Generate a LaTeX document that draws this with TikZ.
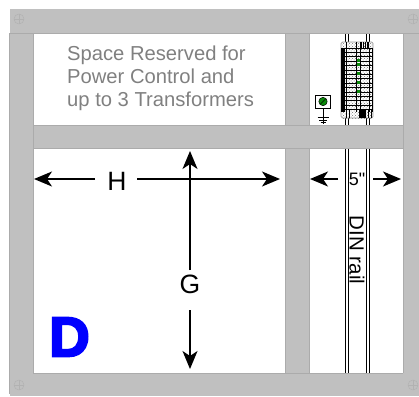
\documentclass[tikz,border=0pt]{standalone}
\usepackage{fontspec}
\setmainfont{Liberation Sans}
\newfontfamily\plainfont{Liberation Sans}
\newfontfamily\heavyfont[FakeBold=4]{Liberation Sans Bold}
\usetikzlibrary{arrows.meta,patterns}
\definecolor{bargray}{HTML}{C0C0C0}
\definecolor{baredge}{HTML}{ABABAB}
\definecolor{screwgray}{HTML}{B2B2B2}
\definecolor{textgray}{HTML}{808080}
\definecolor{ledgreen}{HTML}{0A8A0A}
\tikzset{
  bar/.style={fill=bargray,draw=baredge,line width=.5pt},
  screw/.style={draw=screwgray,line width=.5pt},
  dimarrow/.style={-{Stealth[length=18pt,width=15pt,inset=5pt]},line width=1.8pt},
  dimlabel/.style={font=\fontsize{26.5}{26.5}\selectfont,inner sep=0pt},
  rail/.style={line width=1pt,black},
  gridline/.style={line width=1pt,black},
}
\begin{document}
\begin{tikzpicture}[x=1pt,y=-1pt]
   \useasboundingbox (0,0) rectangle (419,396);
   % din rail, the bar goes over it
   \foreach \x in {345,348,366.5,369.5} \draw[rail] (\x,33) -- (\x,373);
   \draw[rail] (345,33.5) -- (369.5,33.5);
   % frame
   \fill[bargray] (9.5,9) rectangle (419,33);
   \draw[bar] (9.5,33) rectangle (33,393);
   \draw[bar] (285,33) rectangle (309,373);
   \draw[bar] (33,125) rectangle (403,148);
   \draw[bar] (403,33) rectangle (419,373);
   \fill[bargray] (9.5,373) rectangle (419,396);
   \draw[baredge,line width=.5pt] (33,33) -- (285,33) (309,33) -- (403,33) (33,373) -- (403,373);
   \foreach \x/\y in {19/19,413/19,19/385,413/385} {
     \draw[screw] (\x,\y) circle (5);
     \draw[screw] (\x-5,\y) -- (\x+5,\y) (\x,\y-5) -- (\x,\y+5);
   }
   % breaker block
   \fill[white] (341,42) rectangle (373,118);
   \fill[pattern=crosshatch dots,pattern color=black!55] (341,42) rectangle (373,118);
   \draw[draw=black!40,rounded corners=1.5pt,line width=.7pt] (341,42) rectangle (373,118);
   \fill[black] (341,48) rectangle (344.5,112);
   \foreach \x in {346.5,356,360.5,369,372.5} \draw[gridline] (\x,48) -- (\x,112);
   \foreach \y in {48,52.4,...,112} \draw[gridline] (341,\y) -- (373,\y);
   \foreach \x in {361,363.3,365.6,368} \fill[black] (\x-.6,42) rectangle (\x+.6,48);
   \draw[gridline] (346.5,42) -- (346.5,48) (356,42) -- (356,48);
   \fill[black] (359,110) rectangle (366,118);
   \foreach \x in {346,349,368,371} \draw[line width=1pt] (\x,110) -- (\x,118);
   \foreach \y in {60,64.5,73,82,91} \fill[ledgreen] (356.5,\y-1.5) rectangle (360,\y+1.5);
   % ground symbol
   \draw[line width=.8pt,fill=white,draw=black] (315.5,95.5) rectangle (330.5,108.5);
   \fill[ledgreen,draw=black,line width=.5pt] (323,101.5) circle (4.2);
   \draw[line width=.5pt] (320.5,104) -- (325.5,99);
   \draw[line width=.6pt] (323,108.5) -- (323,123.5) (317.5,117.5) -- (328.5,117.5) (319,120) -- (327,120) (320.5,122.5) -- (325.5,122.5);
   % dimensions
   \node[dimlabel] (hlabel) at (117,181) {H};
   \coordinate (hleft) at (34,179);
   \coordinate (hright) at (280,179);
   \draw[dimarrow] (95,179) -- (hleft);
   \draw[dimarrow] (137,179) -- (hright);
   \node[dimlabel] (glabel) at (190,284) {G};
   \coordinate (gtop) at (190,151);
   \coordinate (gbot) at (190,369);
   \draw[dimarrow] (190,270) -- (gtop);
   \draw[dimarrow] (190,310) -- (gbot);
   \node[inner sep=0pt,font=\plainfont\fontsize{18}{18}\selectfont] (fivein) at (357,179) {5"};
   \coordinate (fleft) at (310,179);
   \coordinate (fright) at (401,179);
   \draw[dimarrow] (338,179) -- (fleft);
   \draw[dimarrow] (373,179) -- (fright);
   \node[rotate=-90,inner sep=0pt,font=\fontsize{20.5}{20.5}\selectfont] (dinrail) at (357,250) {DIN rail};
   \node[align=left,anchor=north west,inner sep=0pt,text=textgray,font=\fontsize{20.2}{23}\selectfont] (reserved) at (67,45.5) {Space Reserved for\\Power Control and\\up to 3 Transformers};
   \node[inner sep=0pt,text=blue,font=\heavyfont\fontsize{56}{56}\selectfont] (dlabel) at (69.5,337) {D};
\end{tikzpicture}
\end{document}
